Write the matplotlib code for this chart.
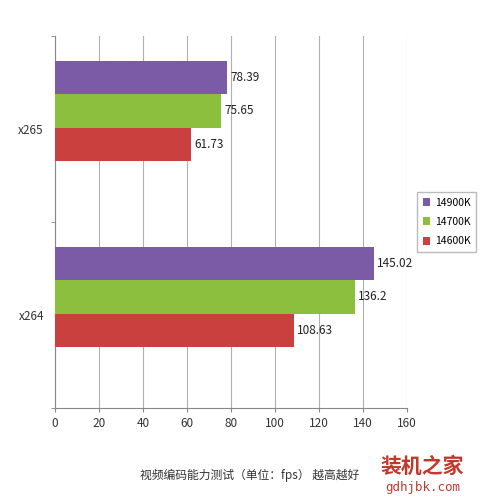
import matplotlib
matplotlib.use("Agg")
import matplotlib.pyplot as plt

plt.rcParams['font.family'] = ['Noto Sans CJK SC', 'DejaVu Sans']
categories = ["x264", "x265"]
series = ["14900K", "14700K", "14600K"]
values = {"14900K": [145.02, 78.39], "14700K": [136.2, 75.65], "14600K": [108.63, 61.73]}
labels = {"14900K": ["145.02", "78.39"], "14700K": ["136.2", "75.65"], "14600K": ["108.63", "61.73"]}
colors = {"14900K": "#7B5BA6", "14700K": "#8DBF3F", "14600K": "#C9403E"}
xticks = [0, 20, 40, 60, 80, 100, 120, 140, 160]

fig = plt.figure(figsize=(5, 5), dpi=100)
ax = fig.add_axes([0.11, 0.184, 0.704, 0.744])
h = 0.178
shift = 0.097
offs = {"14900K": shift + h, "14700K": shift, "14600K": shift - h}
pos = list(range(len(categories)))
for s in series:
    ys = [p + offs[s] for p in pos]
    ax.barh(ys, values[s], height=h, color=colors[s], label=s, zorder=3)
    for y, v, t in zip(ys, values[s], labels[s]):
        ax.text(v + 1.5, y, t, va='center', ha='left', fontsize=8.5, color='#222')
ax.set_xlim(0, 160)
ax.set_ylim(-0.5, 1.5)
ax.set_xticks(xticks)
ax.set_yticks(pos)
ax.set_yticklabels(categories)
ax.set_yticks([-0.5, 0.5, 1.5], minor=True)
ax.tick_params(axis='y', which='major', length=0, pad=8)
ax.tick_params(axis='y', which='minor', length=3, color='#888')
ax.tick_params(labelsize=8.5, colors='#333')
ax.tick_params(axis='x', length=3, color='#888')
ax.grid(axis='x', color='#b0b0b0', lw=0.8, zorder=0)
for sp in ['top', 'right']:
    ax.spines[sp].set_visible(False)
for sp in ['left', 'bottom']:
    ax.spines[sp].set_color('#888')
ax.legend(loc='center left', bbox_to_anchor=(1.015, 0.5), fontsize=7.5, frameon=True,
          edgecolor='#aaa', fancybox=False, handlelength=0.7, handleheight=0.8,
          borderpad=0.5, handletextpad=0.5, labelspacing=0.9)
fig.text(0.5, 0.042, "视频编码能力测试（单位：fps） 越高越好", ha='center', fontsize=8.5, color='#333')
fig.text(0.845, 0.055, "装机之家", ha='center', fontsize=15, color='#c0392b', weight='bold')
fig.text(0.845, 0.018, "gdhjbk.com", ha='center', fontsize=9, color='#c0392b', family='DejaVu Sans Mono')
fig.savefig("out.png", dpi=100)
